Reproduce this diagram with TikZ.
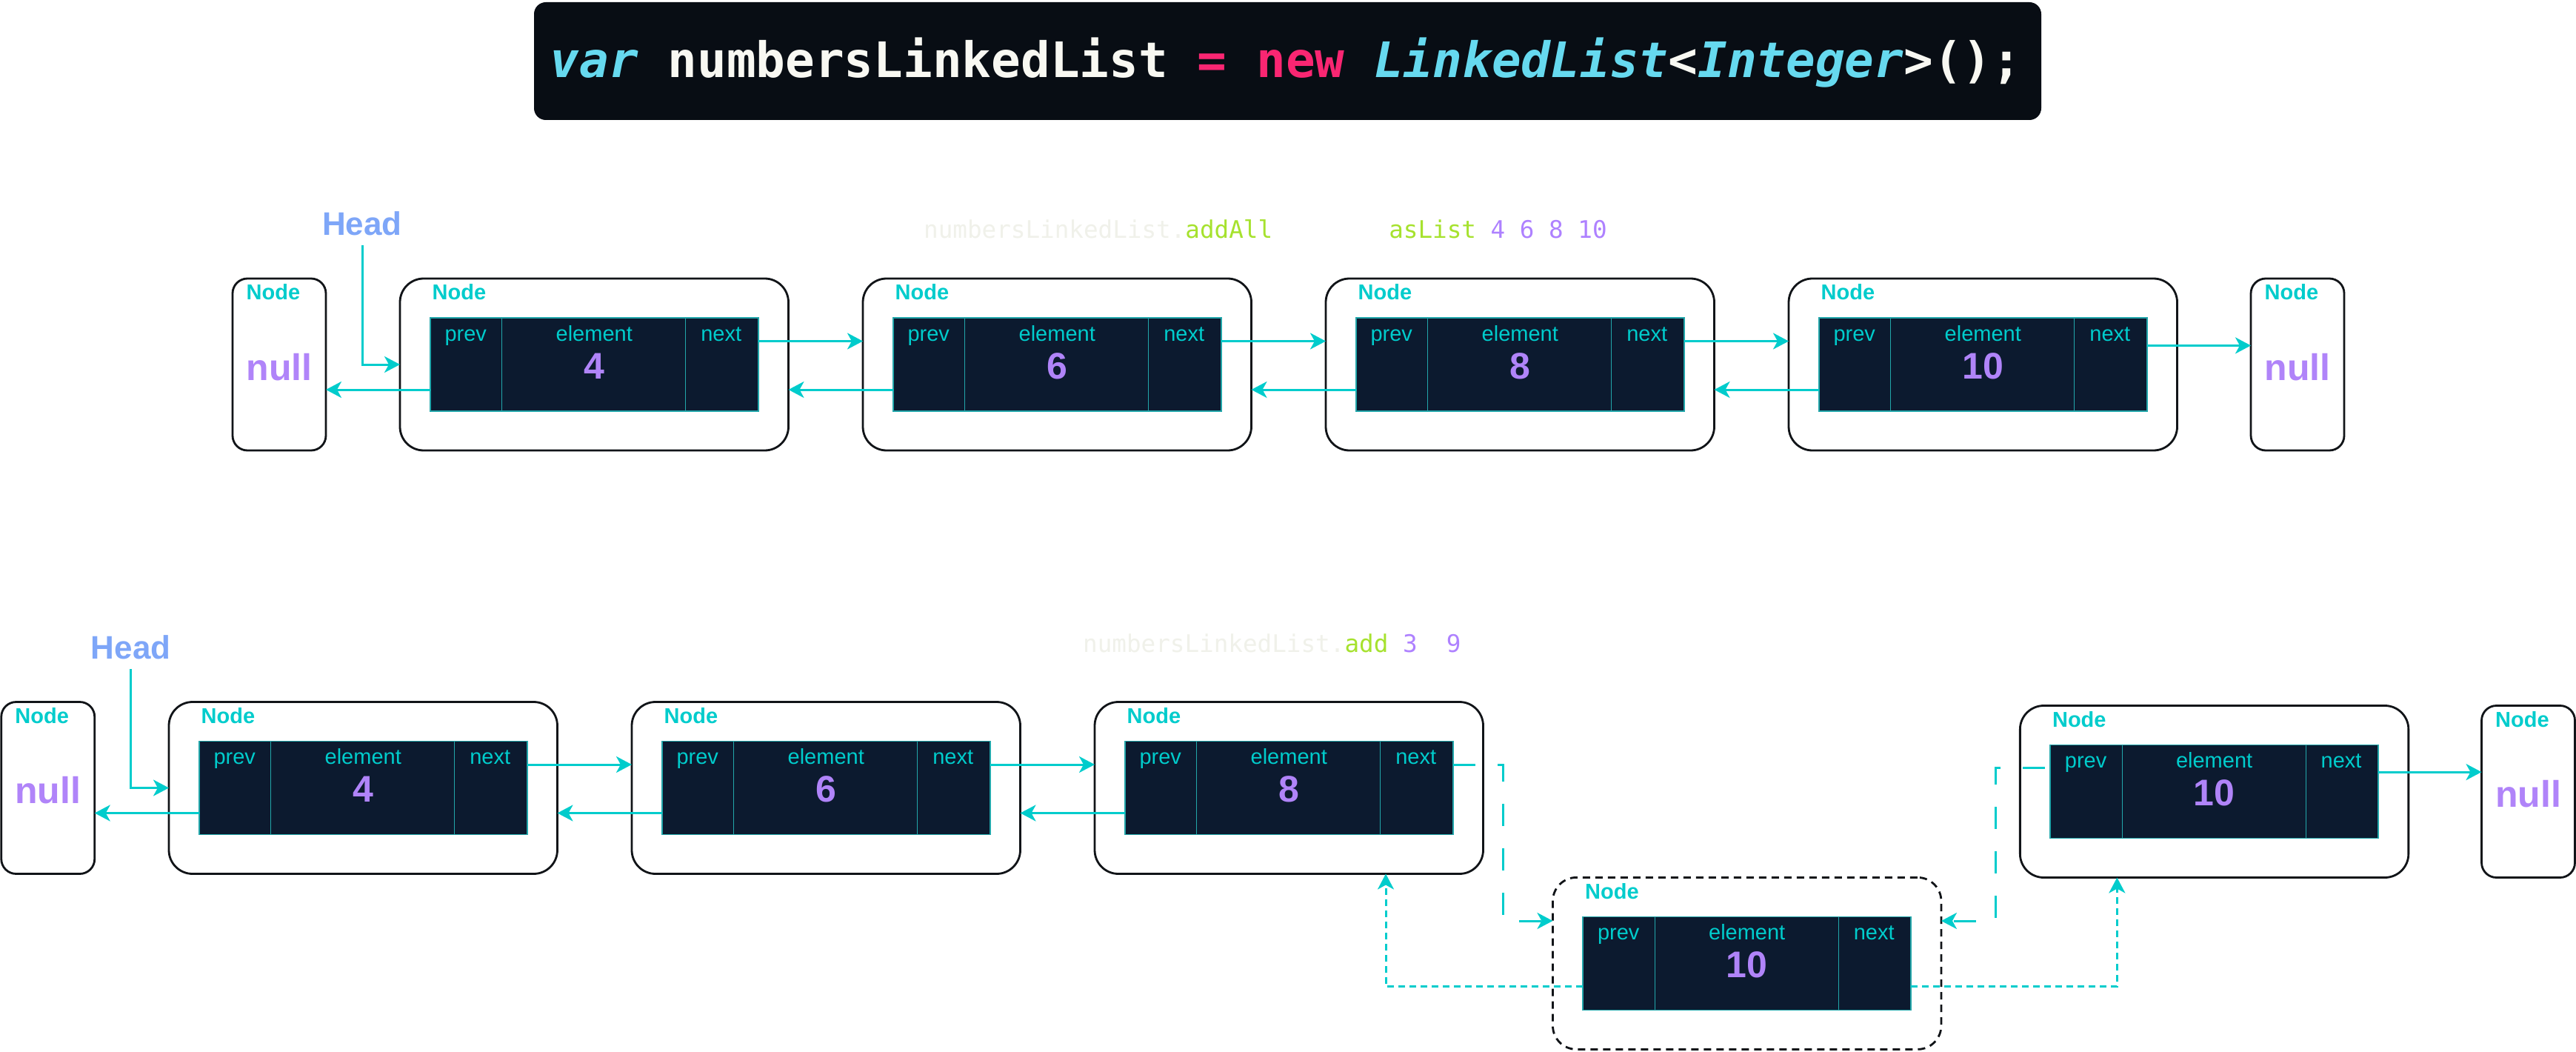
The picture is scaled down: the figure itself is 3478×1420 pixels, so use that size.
\documentclass[tikz,border=0pt]{standalone}
\usepackage{fontspec}
\setmainfont{Liberation Sans}
\newfontfamily\codefont{DejaVu Sans Mono}
\usetikzlibrary{arrows.meta,calc}

\definecolor{cy}{HTML}{00CCCC}
\definecolor{pu}{HTML}{B084F9}
\definecolor{hd}{HTML}{7EA6F8}
\definecolor{dk}{HTML}{0C1A2F}
\definecolor{bd}{HTML}{111418}
\definecolor{tl}{HTML}{22A6AA}
\definecolor{cbg}{HTML}{080D14}
\definecolor{mkcy}{HTML}{66D9EF}
\definecolor{mkpk}{HTML}{F92672}
\definecolor{mkwh}{HTML}{F8F8F2}
\definecolor{mkgr}{HTML}{A6E22E}
\definecolor{mkpu}{HTML}{AE81FF}
\definecolor{faint}{HTML}{F0F1EA}

\newcommand\fs[1]{\fontsize{#1}{#1}\selectfont}

\tikzset{
  nbox/.style={draw=bd, line width=2.8pt, fill=white, rounded corners=32pt,
    minimum width=524.5pt, minimum height=232pt, inner sep=0pt, outer sep=0pt},
  nullbox/.style={nbox, rounded corners=20pt, minimum width=126pt},
  inr/.style={draw=tl, line width=1.5pt, fill=dk, minimum width=443pt,
    minimum height=126pt, inner sep=0pt, outer sep=0pt},
  divline/.style={draw=tl, line width=1.2pt},
  ttl/.style={text=cy, font=\bfseries\fs{29}, anchor=base west, inner sep=0pt},
  fld/.style={text=cy, font=\fs{29}, anchor=base, inner sep=0pt},
  num/.style={text=pu, font=\bfseries\fs{50}, anchor=base, inner sep=0pt},
  hlab/.style={text=hd, font=\bfseries\fs{44}, anchor=base, inner sep=0pt},
  arr/.style={draw=cy, line width=3pt, -{Stealth[length=21pt,width=22pt,inset=6pt]}},
  ldash/.style={arr, dash pattern=on 30pt off 30pt},
  sdash/.style={arr, dash pattern=on 9pt off 6pt},
  blackdash/.style={dash pattern=on 10pt off 7pt},
}

% name, x, y, value
\newcommand\llnode[5][]{%
  \node[nbox,#1] (#2) at (#3,#4) {};
  \node[inr] (#2i) at (#2.center) {};
  \draw[divline] ([xshift=97pt]#2i.north west) -- ([xshift=97pt]#2i.south west);
  \draw[divline] ([xshift=-98pt]#2i.north east) -- ([xshift=-98pt]#2i.south east);
  \node[ttl] (#2t) at ([xshift=43.5pt,yshift=-29pt]#2.north west) {Node};
  \node[fld] (#2p) at ([xshift=48pt,yshift=-31pt]#2i.north west) {prev};
  \node[fld] (#2e) at ([yshift=-31pt]#2i.north) {element};
  \node[fld] (#2n) at ([xshift=-50pt,yshift=-31pt]#2i.north east) {next};
  \node[num] (#2v) at ([yshift=-82pt]#2i.north) {#5};
}
\newcommand\nullnode[3]{%
  \node[nullbox] (#1) at (#2,#3) {};
  \node[ttl] (#1t) at ([xshift=18.5pt,yshift=-29pt]#1.north west) {Node};
  \node[num] (#1v) at ([yshift=-137pt]#1.north) {null};
}

\begin{document}
\begin{tikzpicture}[x=1pt,y=-1pt]
\useasboundingbox[fill=white] (0,0) rectangle (3478,1420);

% code banner
\node[fill=cbg, rounded corners=16pt, minimum width=2035pt, minimum height=159pt, inner sep=0pt] (cb) at (1738.5,82.5) {};
\node[anchor=base, inner sep=0pt, font=\codefont\bfseries\fs{66}] (code) at (1736,105)
  {\textcolor{mkcy}{\itshape var} \textcolor{mkwh}{numbersLinkedList} \textcolor{mkpk}{=} \textcolor{mkpk}{new} \textcolor{mkcy}{\itshape LinkedList}\textcolor{mkwh}{<}\textcolor{mkcy}{\itshape Integer}\textcolor{mkwh}{>();}};

% subtitles
\node[anchor=base west, inner sep=0pt, font=\codefont\fs{32.6}] (s1) at (1247,322)
  {\textcolor{faint}{numbersLinkedList.}\textcolor{mkgr}{addAll}\phantom{(Arrays.}\textcolor{mkgr}{asList}\phantom{(}\textcolor{mkpu}{4}\phantom{,}\textcolor{mkpu}{6}\phantom{,}\textcolor{mkpu}{8}\phantom{,}\textcolor{mkpu}{10}};
\node[anchor=base west, inner sep=0pt, font=\codefont\fs{32.6}] (s2) at (1462,880)
  {\textcolor{faint}{numbersLinkedList.}\textcolor{mkgr}{add}\phantom{(}\textcolor{mkpu}{3}\phantom{,0}\textcolor{mkpu}{9}};

% ---------- row 1 ----------
\nullnode{nla}{377}{492}
\llnode{a1}{802.25}{492}{4}
\llnode{a2}{1427.25}{492}{6}
\llnode{a3}{2052.25}{492}{8}
\llnode{a4}{2677.25}{492}{10}
\nullnode{nra}{3102}{492}

\node[hlab] (h1) at (489,318) {Head};
\draw[arr] ([yshift=-13pt]h1.base) |- (a1.west);

\draw[arr] ([yshift=-34pt]a1i.west) -- ([yshift=-34pt]nla.east);
\draw[arr] ([yshift=31.5pt]a1i.east) -- ([yshift=31.5pt]a2.west);
\draw[arr] ([yshift=-34pt]a2i.west) -- ([yshift=-34pt]a1.east);
\draw[arr] ([yshift=31.5pt]a2i.east) -- ([yshift=31.5pt]a3.west);
\draw[arr] ([yshift=-34pt]a3i.west) -- ([yshift=-34pt]a2.east);
\draw[arr] ([yshift=31.5pt]a3i.east) -- ([yshift=31.5pt]a4.west);
\draw[arr] ([yshift=-34pt]a4i.west) -- ([yshift=-34pt]a3.east);
\draw[arr] ([yshift=25.6pt]a4i.east) -- ([yshift=25.6pt]nra.west);

% ---------- row 2 ----------
\nullnode{nlb}{64.75}{1063.5}
\llnode{b1}{490.25}{1063.5}{4}
\llnode{b2}{1115.25}{1063.5}{6}
\llnode{b3}{1740.25}{1063.5}{8}
\llnode{rr}{2989.6}{1068.5}{10}
\nullnode{nrb}{3413.5}{1068.5}
\llnode[blackdash]{dd}{2358.7}{1300.4}{10}

\node[hlab] (h2) at (176.6,889) {Head};
\draw[arr] ([yshift=-14pt]h2.base) |- (b1.west);

\draw[arr] ([yshift=-34pt]b1i.west) -- ([yshift=-34pt]nlb.east);
\draw[arr] ([yshift=31.5pt]b1i.east) -- ([yshift=31.5pt]b2.west);
\draw[arr] ([yshift=-34pt]b2i.west) -- ([yshift=-34pt]b1.east);
\draw[arr] ([yshift=31.5pt]b2i.east) -- ([yshift=31.5pt]b3.west);
\draw[arr] ([yshift=-34pt]b3i.west) -- ([yshift=-34pt]b2.east);
\draw[arr] ([yshift=26.4pt]rri.east) -- ([yshift=26.4pt]nrb.west);

\coordinate (kl) at (2029,1243);
\coordinate (kr) at (2694,1243);
\draw[ldash] ([yshift=31.5pt]b3i.east) -| (kl) -- ([yshift=57.4pt]dd.west);
\draw[ldash, dash phase=53pt] ([yshift=32pt]rri.west) -| (kr) -- ([yshift=57.4pt]dd.east);

\draw[sdash] ([yshift=-31.3pt]ddi.west) -| ([xshift=393pt]b3.south west);
\draw[sdash] ([yshift=-31.3pt]ddi.east) -| ([xshift=131pt]rr.south west);
\end{tikzpicture}
\end{document}
